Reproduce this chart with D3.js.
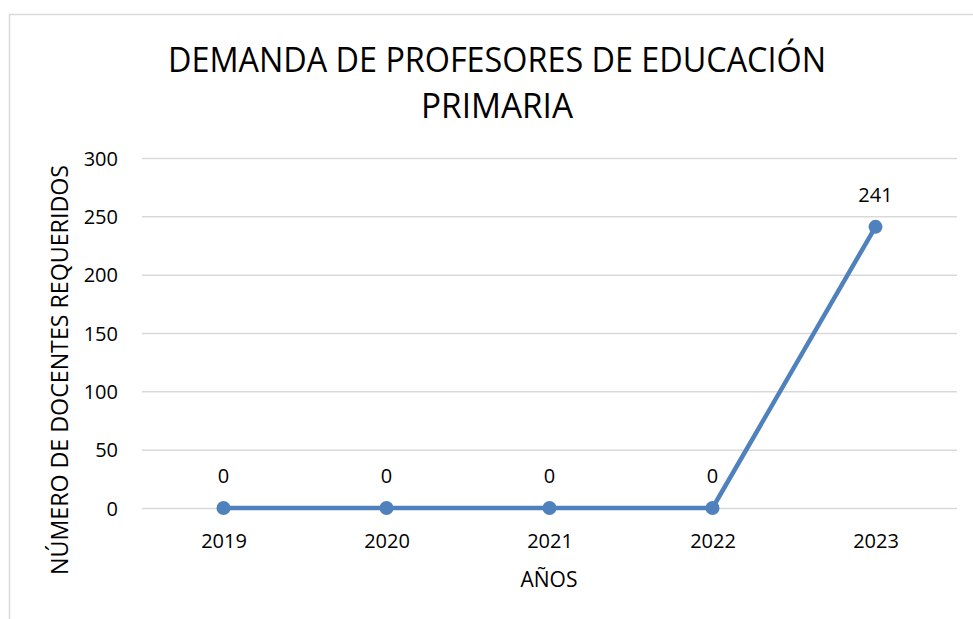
<!DOCTYPE html>
<html>
<head>
<meta charset="utf-8">
<script src="https://cdn.jsdelivr.net/npm/d3@7"></script>
<style>
  body { margin: 0; background: #fff; }
  text { font-family: "Open Sans", "Noto Sans", sans-serif; fill: #000; }
</style>
</head>
<body>
<div id="chart"></div>
<script>
// data
var years = ["2019", "2020", "2021", "2022", "2023"];
var docentes = [0, 0, 0, 0, 241];
var yTicks = [0, 50, 100, 150, 200, 250, 300];
var titleLines = ["DEMANDA DE PROFESORES DE EDUCACIÓN", "PRIMARIA"];
var yLabel = "NÚMERO DE DOCENTES REQUERIDOS";
var xLabel = "AÑOS";

function getConfig(){
    let width = 973, height = 619;
    let margin = {top: 158, right: 16, bottom: 111, left: 142};
    let plot = {};
    plot.w = width - margin.left - margin.right;
    plot.h = height - margin.top - margin.bottom;
    plot.line_color = "#4f81bd";
    plot.grid_color = "#d9d9d9";
    return {width, height, margin, plot};
}

function showData(){
    let config = getConfig();
    let svg = d3.select("#chart").append("svg")
        .attr("width", config.width)
        .attr("height", config.height);

    // chart frame (cropped on right and bottom)
    svg.append("rect")
        .attr("x", 9.5).attr("y", 14.5)
        .attr("width", config.width + 20).attr("height", config.height + 20)
        .attr("fill", "none").attr("stroke", "#d9d9d9").attr("stroke-width", 1.5);

    // title
    svg.append("text")
        .attr("x", 497).attr("y", 72)
        .attr("font-size", 34)
        .attr("text-anchor", "middle")
        .attr("textLength", 658).attr("lengthAdjust", "spacingAndGlyphs")
        .text(titleLines[0]);
    svg.append("text")
        .attr("x", 497).attr("y", 118)
        .attr("font-size", 34)
        .attr("text-anchor", "middle")
        .attr("textLength", 152).attr("lengthAdjust", "spacingAndGlyphs")
        .text(titleLines[1]);

    let g = svg.append("g")
        .attr("transform", `translate(${config.margin.left},${config.margin.top})`);

    let xScale = d3.scalePoint()
        .domain(years)
        .range([0, config.plot.w])
        .padding(0.5);

    let yScale = d3.scaleLinear()
        .domain([0, 300])
        .range([config.plot.h, 0]);

    // gridlines + y tick labels
    let yAx = g.append("g")
        .call(d3.axisLeft(yScale).tickValues(yTicks).tickSize(-config.plot.w).tickPadding(24));
    yAx.select(".domain").remove();
    yAx.selectAll(".tick line")
        .attr("stroke", config.plot.grid_color)
        .attr("stroke-width", 1.5);
    yAx.selectAll(".tick text")
        .attr("font-size", 20)
        .attr("font-family", "Open Sans")
        .attr("fill", "#000")
        .attr("dy", "0.35em");

    // x tick labels
    let xAx = g.append("g")
        .attr("transform", `translate(0,${config.plot.h})`)
        .call(d3.axisBottom(xScale).tickSize(0).tickPadding(26));
    xAx.select(".domain").remove();
    xAx.selectAll(".tick text")
        .attr("font-size", 20)
        .attr("font-family", "Open Sans")
        .attr("fill", "#000");

    let data = years.map((y, i) => ({year: y, value: docentes[i]}));

    let line = d3.line()
        .x(d => xScale(d.year))
        .y(d => yScale(d.value));

    g.append("path")
        .datum(data)
        .attr("d", line)
        .attr("fill", "none")
        .attr("stroke", config.plot.line_color)
        .attr("stroke-width", 4.5)
        .attr("stroke-linejoin", "round");

    g.selectAll("circle")
        .data(data)
        .join("circle")
        .attr("cx", d => xScale(d.year))
        .attr("cy", d => yScale(d.value))
        .attr("r", 7)
        .attr("fill", config.plot.line_color);

    // data labels
    g.selectAll(".lbl")
        .data(data)
        .join("text")
        .attr("class", "lbl")
        .attr("x", d => xScale(d.year))
        .attr("y", d => yScale(d.value) - 25)
        .attr("text-anchor", "middle")
        .attr("font-size", 20)
        .text(d => d.value);

    // axis titles
    svg.append("text")
        .attr("transform", "translate(68,370) rotate(-90)")
        .attr("text-anchor", "middle")
        .attr("font-size", 24)
        .attr("textLength", 410).attr("lengthAdjust", "spacingAndGlyphs")
        .text(yLabel);

    svg.append("text")
        .attr("x", 549).attr("y", 587)
        .attr("text-anchor", "middle")
        .attr("font-size", 21)
        .text(xLabel);
}

showData();
</script>
</body>
</html>
